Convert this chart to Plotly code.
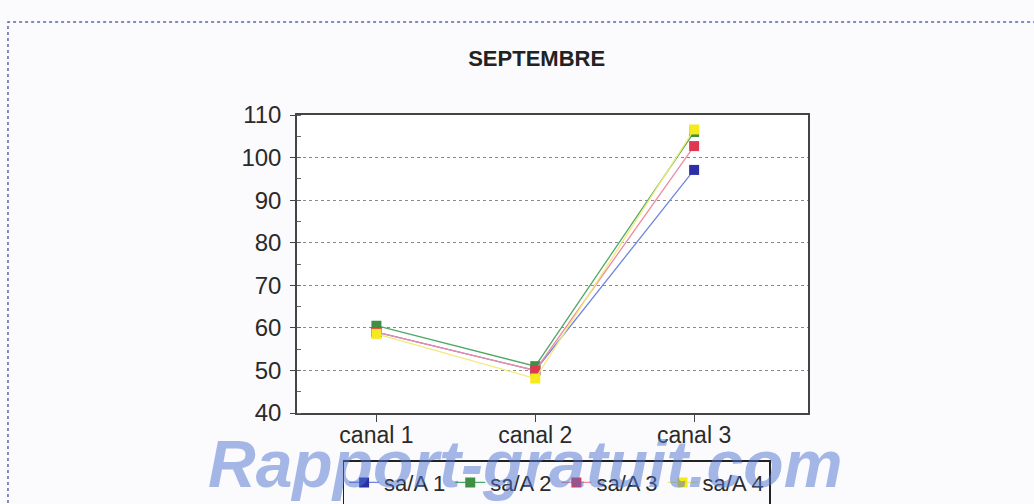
import plotly.graph_objects as go

# Canal categories and measured values per sample
categories = ["canal 1", "canal 2", "canal 3"]
sa_a1 = [59.0, 50.0, 97.1]
sa_a2 = [60.5, 51.0, 106.0]
sa_a3 = [59.0, 50.0, 102.7]
sa_a4 = [58.6, 48.1, 106.6]
series_names = ["sa/A 1", "sa/A 2", "sa/A 3", "sa/A 4"]
y_ticks = [40, 50, 60, 70, 80, 90, 100, 110]

line_colors = ["#6f86e0", "#52a866", "#ee8aa0", "#f2ea7a"]
marker_colors = ["#2b2fa8", "#3f8f45", "#e0384f", "#f4ea1c"]

fig = go.Figure()
for name, vals, lc, mc in zip(series_names, [sa_a1, sa_a2, sa_a3, sa_a4],
                              line_colors, marker_colors):
    fig.add_trace(go.Scatter(
        x=list(range(len(categories))), y=vals, name=name,
        mode="lines+markers",
        line=dict(color=lc, width=1.3),
        marker=dict(symbol="square", size=10, color=mc),
    ))

font_family = "Liberation Sans, Arial, sans-serif"

fig.update_layout(
    width=1034, height=504,
    margin=dict(l=297, r=226, t=115, b=91, autoexpand=False),
    paper_bgcolor="#fbfbfd",
    plot_bgcolor="#ffffff",
    font=dict(family=font_family, size=22, color="#2a2a2a"),
    title=dict(text="<b>SEPTEMBRE</b>", x=0.519, xanchor="center",
               y=0.885, yanchor="middle",
               font=dict(size=22, color="#222222")),
    showlegend=True,
    legend=dict(orientation="h", x=0.508, xanchor="center",
                y=-0.158, yanchor="top",
                bordercolor="#222222", borderwidth=1.5,
                bgcolor="rgba(255,255,255,0)",
                font=dict(size=22, color="#2a2a2a"),
                itemwidth=30, tracegroupgap=0),
    xaxis=dict(
        tickmode="array", tickvals=list(range(len(categories))),
        ticktext=categories, range=[-0.5, 2.717],
        showgrid=False, zeroline=False,
        showline=True, linecolor="#444444", linewidth=1.5, mirror=True,
        ticks="outside", ticklen=7, tickcolor="#444444",
        ticklabelstandoff=-6,
        tickfont=dict(size=23),
    ),
    yaxis=dict(
        range=[40, 110], tickvals=y_ticks,
        showgrid=True, gridcolor="#8a8a8a", griddash="dot", gridwidth=1,
        zeroline=False,
        showline=True, linecolor="#444444", linewidth=1.5, mirror=True,
        ticks="outside", ticklen=5, tickcolor="#444444",
        minor=dict(dtick=5, ticks="inside", ticklen=4, tickcolor="#666666",
                   showgrid=False),
        ticklabelstandoff=4,
        tickfont=dict(size=24),
    ),
)

# Dotted page frame around the figure block
fig.add_shape(type="rect", xref="paper", yref="paper",
              x0=-0.5656, y0=-0.45, x1=1.5, y1=1.312,
              line=dict(color="#5a64b8", width=1.5, dash="dot"),
              layer="below")

# Site watermark across the bottom of the page
fig.add_annotation(text="<b><i>Rapport-gratuit.com</i></b>", xref="paper", yref="paper",
                   x=0.446, y=-0.17, xanchor="center", yanchor="middle",
                   showarrow=False, opacity=0.5,
                   font=dict(family=font_family, size=66, color="#4f74d0"))

fig.write_html("out.html")
